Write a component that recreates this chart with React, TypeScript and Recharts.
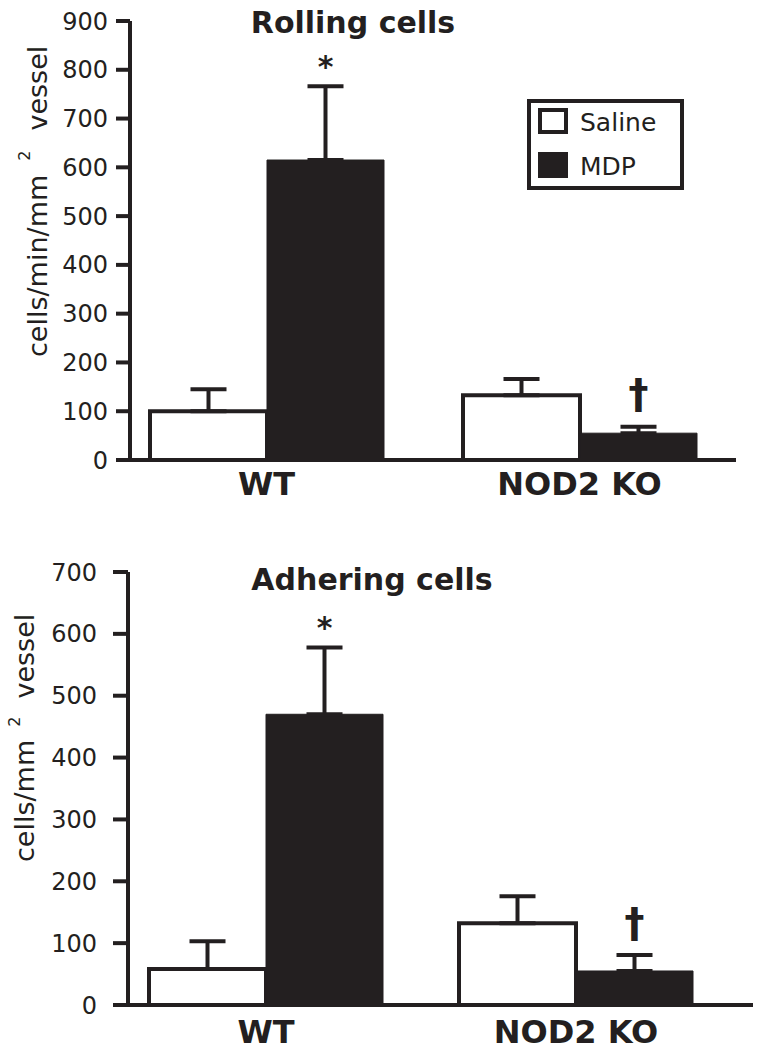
import { BarChart, Bar, XAxis, YAxis, ErrorBar, Legend, LabelList, Customized } from 'recharts';

const groups = ['WT', 'NOD2 KO'];
const seriesOrder = ['saline', 'mdp'];

// Rolling cells (cells/min/mm2 vessel)
const rollingSaline = [100, 133];
const rollingSalineErr = [45, 33];
const rollingMdp = [615, 55];
const rollingMdpErr = [151, 13];
const rollingMarks = ['*', '†'];
const rollingTicks = [0, 100, 200, 300, 400, 500, 600, 700, 800, 900];

// Adhering cells (cells/mm2 vessel)
const adheringSaline = [58, 132];
const adheringSalineErr = [45, 44];
const adheringMdp = [470, 55];
const adheringMdpErr = [108, 26];
const adheringMarks = ['*', '†'];
const adheringTicks = [0, 100, 200, 300, 400, 500, 600, 700];

const ink = '#231f20';
const font = '"DejaVu Sans", sans-serif';

const buildRows = (saline: number[], salineErr: number[], mdp: number[], mdpErr: number[]) =>
  groups.map((g, i) => ({
    group: g,
    saline: saline[i],
    salineErr: [0, salineErr[i]],
    mdp: mdp[i],
    mdpErr: [0, mdpErr[i]],
  }));

const rollingData = buildRows(rollingSaline, rollingSalineErr, rollingMdp, rollingMdpErr);
const adheringData = buildRows(adheringSaline, adheringSalineErr, adheringMdp, adheringMdpErr);

const LegendBox = ({ payload }: any) => {
  const items = [...(payload || [])].sort(
    (a: any, b: any) => seriesOrder.indexOf(a.dataKey) - seriesOrder.indexOf(b.dataKey)
  );
  return (
    <div style={{ width: '100%', height: '100%', boxSizing: 'border-box', border: `4px solid ${ink}`, background: '#fff', position: 'relative', fontFamily: font, fontSize: 25, color: ink }}>
      {items.map((p: any, i: number) => (
        <div key={i} style={{ position: 'absolute', left: 7, top: 5 + i * 44, height: 26, display: 'flex', alignItems: 'center' }}>
          <span style={{ display: 'inline-block', width: 30, height: 26, boxSizing: 'border-box', border: `4px solid ${ink}`, background: p.dataKey === 'mdp' ? ink : '#fff' }} />
          <span style={{ marginLeft: 12, lineHeight: '26px', position: 'relative', top: 2 }}>{p.value}</span>
        </div>
      ))}
    </div>
  );
};

const markRenderer = (marks: string[], errs: number[], daggerLift: number) => (props: any) => {
  const vb = props.viewBox || props;
  const x = vb.x ?? props.x;
  const y = vb.y ?? props.y;
  const width = vb.width ?? props.width;
  const height = vb.height ?? props.height;
  const index = props.index;
  const value = Number(props.value);
  const mark = marks[index];
  if (!mark || !value) return null;
  const top = y - errs[index] * (height / value);
  const star = mark === '*';
  return (
    <text x={x + width / 2} y={star ? top - 9 : top - daggerLift} textAnchor="middle" fontFamily={font} fontWeight="bold" fontSize={star ? 30 : 40} fill={ink}>
      {mark}
    </text>
  );
};

type PanelProps = {
  data: any[];
  ticks: number[];
  height: number;
  margin: { top: number; right: number; left: number; bottom: number };
  axisWidth: number;
  tickSize: number;
  tickMargin: number;
  xPad: { left: number; right: number };
  xHeight: number;
  xTickMargin: number;
  title: string;
  titleX: number;
  titleY: number;
  labelMain: string;
  labelX: number;
  labelY: number;
  supGap: number;
  supDy: number;
  tailGap: number;
  marks: string[];
  mdpErr: number[];
  daggerLift: number;
  legend?: boolean;
};

const Panel = (p: PanelProps) => (
  <BarChart width={762} height={p.height} data={p.data} margin={p.margin} barGap={0} barSize={117}>
    <XAxis
      dataKey="group"
      padding={p.xPad}
      height={p.xHeight}
      tickLine={false}
      tickSize={0}
      tickMargin={p.xTickMargin}
      axisLine={{ stroke: ink, strokeWidth: 4 }}
      tick={{ fill: ink, fontFamily: font, fontWeight: 'bold', fontSize: 32 }}
    />
    <YAxis
      domain={[0, p.ticks[p.ticks.length - 1]]}
      ticks={p.ticks}
      interval={0}
      width={p.axisWidth}
      tickSize={p.tickSize}
      tickMargin={p.tickMargin}
      axisLine={{ stroke: ink, strokeWidth: 4 }}
      tickLine={{ stroke: ink, strokeWidth: 4 }}
      tick={{ fill: ink, fontFamily: font, fontSize: 24 }}
    />
    {p.legend && (
      <Legend
        layout="vertical"
        align="center"
        verticalAlign="middle"
        wrapperStyle={{ left: 527, top: 99, width: 157, height: 91 }}
        content={<LegendBox />}
      />
    )}
    <Bar dataKey="saline" name="Saline" fill="#fff" stroke={ink} strokeWidth={4} isAnimationActive={false}>
      <ErrorBar dataKey="salineErr" direction="y" width={18} stroke={ink} strokeWidth={4} />
    </Bar>
    <Bar dataKey="mdp" name="MDP" fill={ink} stroke={ink} strokeWidth={1} isAnimationActive={false}>
      <ErrorBar dataKey="mdpErr" direction="y" width={18} stroke={ink} strokeWidth={4} />
      <LabelList dataKey="mdp" content={markRenderer(p.marks, p.mdpErr, p.daggerLift)} />
    </Bar>
    <Customized
      component={() => (
        <g>
          <text x={p.titleX} y={p.titleY} textAnchor="middle" fontFamily={font} fontWeight="bold" fontSize={30} fill={ink}>
            {p.title}
          </text>
          <text transform={`translate(${p.labelX},${p.labelY}) rotate(-90)`} fontFamily={font} fontSize={27} fill={ink}>
            <tspan>{p.labelMain}</tspan>
            <tspan dx={p.supGap} dy={p.supDy} fontSize={16}>2</tspan>
            <tspan dx={p.tailGap} dy={-p.supDy} fontSize={27}>vessel</tspan>
          </text>
        </g>
      )}
    />
  </BarChart>
);

export default function App() {
  return (
    <div style={{ position: 'absolute', left: 0, top: 0, width: 762, height: 1052, background: '#fff' }}>
      <Panel
        data={rollingData}
        ticks={rollingTicks}
        height={520}
        margin={{ top: 21, right: 26, left: 0, bottom: 0 }}
        axisWidth={130}
        tickSize={14}
        tickMargin={8}
        xPad={{ left: -20, right: 0 }}
        xHeight={60}
        xTickMargin={12}
        title="Rolling cells"
        titleX={353}
        titleY={33}
        labelMain="cells/min/mm"
        labelX={47}
        labelY={357}
        supGap={14}
        supDy={-17}
        tailGap={20}
        marks={rollingMarks}
        mdpErr={rollingMdpErr}
        daggerLift={19}
        legend
      />
      <Panel
        data={adheringData}
        ticks={adheringTicks}
        height={532}
        margin={{ top: 52, right: 9, left: 0, bottom: 0 }}
        axisWidth={128}
        tickSize={15}
        tickMargin={16}
        xPad={{ left: -17, right: 22 }}
        xHeight={47}
        xTickMargin={15}
        title="Adhering cells"
        titleX={372}
        titleY={70}
        labelMain="cells/mm"
        labelX={34}
        labelY={342}
        supGap={13}
        supDy={-14}
        tailGap={18}
        marks={adheringMarks}
        mdpErr={adheringMdpErr}
        daggerLift={18}
      />
    </div>
  );
}
